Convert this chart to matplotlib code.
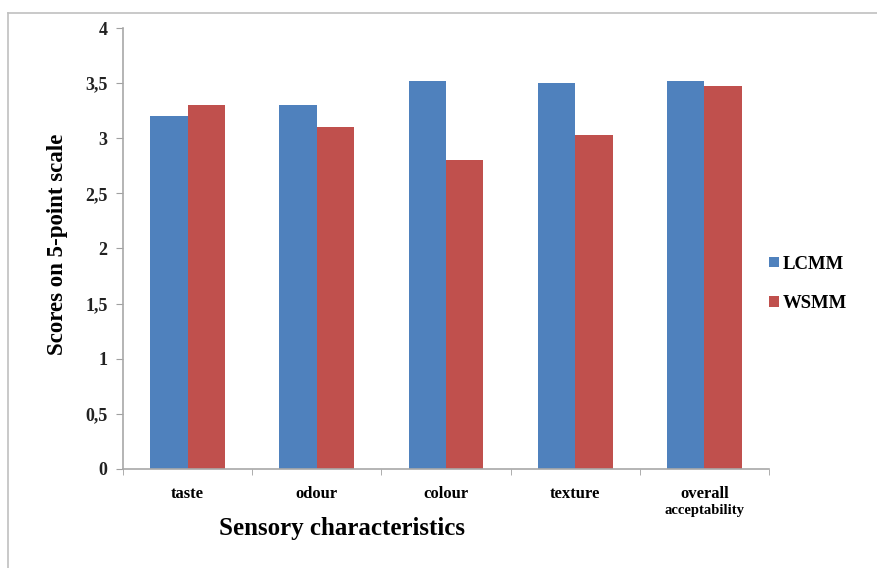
import numpy as np
import matplotlib
matplotlib.use('Agg')
from matplotlib import pyplot as plt
from matplotlib.lines import Line2D

categories = ['taste', 'odour', 'colour', 'texture', 'overall']
lcmm = [3.2, 3.3, 3.52, 3.5, 3.52]
wsmm = [3.3, 3.1, 2.8, 3.03, 3.47]
yticks = [0, 0.5, 1, 1.5, 2, 2.5, 3, 3.5, 4]
ytick_labels = ['0', '0,5', '1', '1,5', '2', '2,5', '3', '3,5', '4']

plt.rcParams['font.family'] = ['Liberation Serif', 'DejaVu Serif']

fig = plt.figure(figsize=(8.78, 5.68), dpi=100)
ax = fig.add_axes([0.1401, 0.1743, 0.7358, 0.7764])

x = np.arange(len(categories))
w = 0.29
ax.bar(x - w/2, lcmm, w, color='#4F81BD', label='LCMM')
ax.bar(x + w/2, wsmm, w, color='#C0504D', label='WSMM')

ax.set_xlim(-0.5, len(categories) - 0.5)
ax.set_ylim(0, 4)
ax.set_yticks(yticks)
ax.set_yticklabels(ytick_labels, fontsize=13, fontweight='bold', color='#222222')
ax.set_xticks(x)
ax.set_xticklabels(categories, fontsize=12, fontweight='bold')
ax.tick_params(axis='x', length=0, pad=12)
ax.set_xticks(np.arange(len(categories) + 1) - 0.5, minor=True)
ax.tick_params(axis='x', which='minor', length=4, color='#a0a0a0')
ax.tick_params(axis='y', length=5, color='#a0a0a0', pad=6)
ax.text(4, -0.375, 'acceptability', fontsize=10.5, fontweight='bold',
        ha='center', va='center', transform=ax.transData)

for s in ['top', 'right']:
    ax.spines[s].set_visible(False)
for s in ['left', 'bottom']:
    ax.spines[s].set_color('#a8a8a8')
    ax.spines[s].set_linewidth(1.2)

ax.set_ylabel('Scores on 5-point scale', fontsize=16.5, fontweight='bold', va='center')
ax.yaxis.set_label_coords(-0.102, 0.51)
ax.set_xlabel('Sensory characteristics', fontsize=18, fontweight='bold', va='center')
ax.xaxis.set_label_coords(0.339, -0.136)

fig.legend(loc='center left', bbox_to_anchor=(0.857, 0.5), frameon=False,
           prop={'size': 13.5, 'weight': 'bold'}, handlelength=0.5,
           handleheight=0.5, handletextpad=0.2, labelspacing=1.2)

# outer frame
fig.add_artist(Line2D([8/878, 1], [1 - 13/568, 1 - 13/568], color='#c0c0c0', lw=1.2))
fig.add_artist(Line2D([8/878, 8/878], [0, 1 - 13/568], color='#c0c0c0', lw=1.2))

plt.savefig('out.png', dpi=100)
